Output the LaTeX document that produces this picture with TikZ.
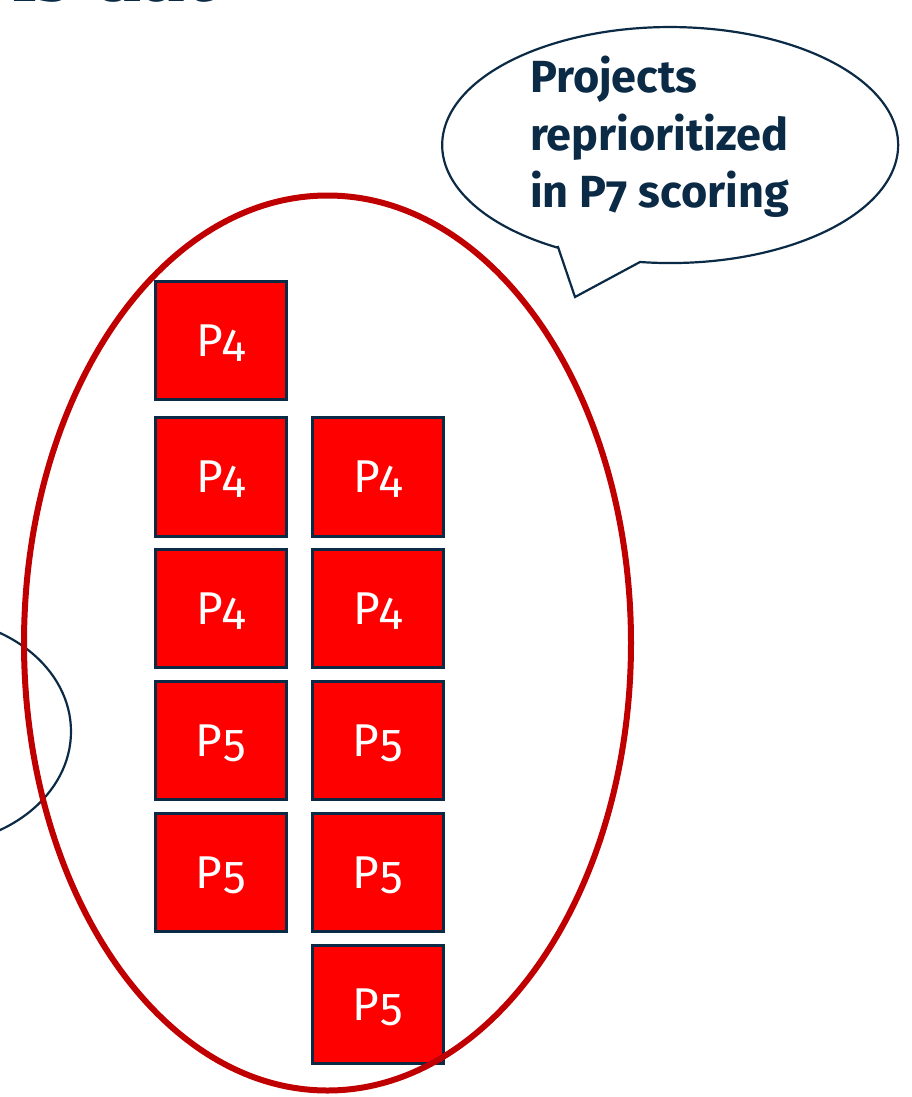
\documentclass[tikz,border=0pt]{standalone}
\usepackage{fontspec}
\setmainfont{Fira Sans}[Numbers=OldStyle]
\newfontfamily\titleserif{Liberation Serif}
\definecolor{navy}{HTML}{0B2A45}
\definecolor{boxred}{HTML}{FF0000}
\definecolor{darkred}{HTML}{C00000}
\begin{document}
\begin{tikzpicture}[x=1pt,y=-1pt,
  pbox/.style={draw=navy, line width=3pt, fill=boxred, minimum width=131pt, minimum height=118.5pt,
    inner sep=0pt, text=white, text height=31.5pt, text depth=0pt, font=\fontsize{46}{46}\selectfont\addfontfeatures{LetterSpace=4}},
  bubbletext/.style={anchor=base west, inner sep=0pt, text=navy, font=\fontsize{45}{57}\selectfont\bfseries}]
\useasboundingbox (0,0) rectangle (912,1097);
% partial title
\node[anchor=base west, inner sep=0pt, text=navy, font=\fontsize{88}{88}\selectfont\titleserif\bfseries] (title) at (12,2) {is dat};
% partial navy ellipse on the left
\draw[navy, line width=2.2pt] (-70,731.5) ellipse [x radius=141, y radius=113.5];
% boxes column 1
\node[pbox] (a1) at (221,340.5) {P4};
\node[pbox] (a2) at (221,477) {P4};
\node[pbox] (a3) at (221,608.5) {P4};
\node[pbox] (a4) at (221,740.5) {P5};
\node[pbox] (a5) at (221,872.5) {P5};
% boxes column 2
\node[pbox] (b2) at (377.5,477) {P4};
\node[pbox] (b3) at (377.5,608.5) {P4};
\node[pbox] (b4) at (377.5,740.5) {P5};
\node[pbox] (b5) at (377.5,872.5) {P5};
\node[pbox] (b6) at (377.5,1004.5) {P5};
% big red ellipse
\draw[darkred, line width=6pt] (327.5,643) ellipse [x radius=303.5, y radius=447.5];
% speech bubble
\draw[navy, line width=2.2pt, fill=white] (558,247) -- (575,297) -- (640,262)
  arc[start angle=97.6, end angle=-240.2, x radius=228, y radius=118] -- cycle;
\node[bubbletext] (l1) at (530,93) {Projects};
\node[bubbletext] (l2) at (530,150) {reprioritized};
\node[bubbletext] (l3) at (530,207) {in P7 scoring};
\end{tikzpicture}
\end{document}
